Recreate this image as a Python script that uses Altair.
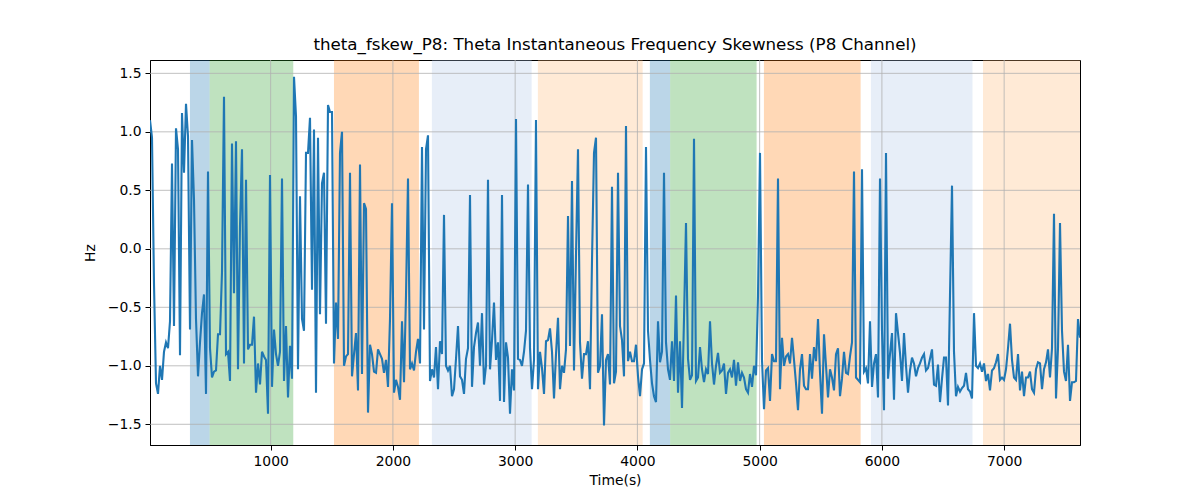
import altair as alt
import pandas as pd
import numpy as np

# ---- data ----
T0 = 13.1      # first sample time (s)
DT = 16.36     # sample step (s)

hz = [
    # 0 - 950 s
    1.10, 0.95, -0.30, -1.15, -1.24, -1.00, -1.12, -0.88, -0.80, -0.85,
    -0.62, 0.73, -0.66, 1.03, 0.85, -0.91, 1.16, 0.65, 1.24, 0.96,
    -0.69, 0.93, 0.42, -0.60, -1.09, -0.80, -0.55, -0.39, -1.24, 0.66,
    -0.85, -1.10, -1.05, -1.04, -0.73, -0.73, -0.20, 1.30, -0.90, -0.88,
    -1.13, 0.90, -0.38, 0.92, -1.03, 0.20, 0.85, -0.98, 0.59, -0.86,
    -0.82, -0.82, -0.58, -1.23, -0.98, -1.16, -0.88, -0.92,
    # 950 - 1900 s
    -0.95, -1.41, 0.63, -1.18, -0.69, -0.90, -1.00, -0.88, 0.60, -1.13,
    -0.66, -1.27, -0.83, -1.11, 1.47, 1.13, -1.03, 0.45, -0.60, -0.70,
    0.82, 0.82, 1.12, -0.35, 1.02, -1.23, 0.95, -0.56, 0.56, 0.65,
    -0.64, 1.23, 1.17, 1.17, -0.98, -0.46, -0.77, 0.82, 1.00, -1.00,
    -0.92, -0.90, 0.65, -1.09, -0.90, -0.72, -1.21, 0.72, -1.07, 0.39,
    0.34, -1.40, -0.82, -0.90, -1.05, -1.06, -0.86, -0.90,
    # 1900 - 2850 s
    -0.94, -1.06, -0.95, -1.18, -0.60, 0.39, -1.23, -1.12, -1.18, -1.29,
    -0.62, -1.14, -0.40, 0.60, -1.03, -0.98, -1.04, -0.88, -0.77, -0.98,
    0.87, -0.69, 0.85, 0.97, -1.13, -1.03, -1.10, -0.84, -1.20, -0.79,
    -0.90, 0.29, -1.00, -1.04, -1.00, -1.26, -1.20, -0.94, -0.66, -1.09,
    -1.12, -1.24, -0.94, -0.85, 0.46, -1.18, -0.84, -0.72, -0.63, -1.00,
    -0.55, -1.16, -1.00, 0.59, -1.03, -0.78, -0.46, -0.95,
    # 2850 - 3800 s
    -0.80, -1.30, 0.46, -1.31, -0.80, -0.93, -1.41, -1.03, -1.21, 1.11,
    -0.94, -0.95, -1.00, -0.88, -0.70, 0.55, -0.85, -1.20, -0.95, 1.10,
    -1.20, -0.88, -1.02, -1.24, -0.79, -0.78, -0.68, -0.88, -1.28, -0.90,
    -0.59, -1.20, -1.00, -1.06, -0.86, 0.28, -0.83, 0.58, -1.04, -0.05,
    0.85, -0.80, -1.11, -0.90, -0.90, -0.79, -1.20, -0.10, 0.82, 0.95,
    -1.06, -1.00, -0.56, -1.51, -0.95, -0.90, -1.16, 0.53,
    # 3800 - 4750 s
    -1.15, -1.05, 0.65, -0.66, -0.78, -1.09, 1.05, -0.96, -0.88, -0.96,
    -0.96, -0.82, -1.09, -1.26, -1.03, -0.98, 0.87, -0.70, -0.95, -1.15,
    -1.26, -1.31, -0.62, -0.97, -0.88, 0.65, -0.80, -1.03, -1.12, -0.79,
    -1.13, -0.40, -1.23, -0.79, -1.36, -0.60, 0.22, -0.94, -1.12, -1.08,
    0.94, -1.13, -1.10, -0.84, -1.03, -1.14, -1.03, -1.07, -0.62, -0.98,
    -1.16, -1.00, -0.89, -1.06, -1.04, -0.98, -1.24, -1.06,
    # 4750 - 5700 s
    -1.03, -1.10, -0.95, -1.17, -0.97, -1.13, -1.06, -1.10, -1.20, -1.23,
    -1.07, -1.18, -1.00, -1.08, -0.40, 0.82, -0.95, -1.37, -1.04, -1.02,
    -1.30, -0.90, -0.96, -0.96, 0.60, -1.20, -0.76, -1.00, -0.92, -0.90,
    -0.98, -0.76, -0.95, -1.15, -1.38, -1.03, -0.90, -1.17, -1.20, -1.20,
    -0.90, -1.11, -0.84, -0.96, -0.60, -1.06, -1.41, -0.73, -1.00, -1.27,
    -1.03, -1.10, -1.21, -0.90, -0.85, -1.26, -1.11, -0.88,
    # 5700 - 6650 s
    -1.06, -1.07, -0.92, -0.80, 0.66, -1.10, -1.12, -1.14, 0.68, -1.05,
    -1.02, -1.15, -0.62, -1.18, -0.98, -0.90, -1.27, 0.60, -0.70, -1.38,
    0.82, -1.11, -0.90, -0.72, -1.29, -0.55, -0.72, -0.89, -1.13, -0.72,
    -1.00, -1.23, -1.04, -0.93, -0.98, -1.09, -1.02, -0.98, -0.93, -0.90,
    -1.04, -1.02, -0.94, -0.86, -1.16, -1.17, -0.99, -1.31, -1.11, -0.93,
    -0.93, -1.34, -0.40, 0.54, -0.88, -1.26, -1.18, -1.22,
    # 6650 - 7620 s
    -1.19, -1.17, -1.06, -1.20, -1.22, -1.28, -0.55, -1.00, -1.02, -0.98,
    -1.05, -0.98, -1.13, -1.07, -1.21, -1.04, -1.02, -0.97, -0.90, -1.12,
    -1.10, -1.12, -1.03, -0.85, -0.64, -0.95, -1.10, -1.12, -0.90, -1.21,
    -1.05, -1.26, -1.10, -1.10, -1.05, -1.20, -1.23, -1.03, -0.97, -0.98,
    -1.20, -1.03, -0.97, -0.86, -1.10, -0.85, 0.30, -1.28, -0.85, 0.22,
    -0.70, -1.05, -1.13, -0.82, -1.30, -1.14, -1.14, -1.13, -0.60, -0.76,
]

span_start = [340, 501, 1518, 2319, 3186, 4102, 4268, 5035, 5910, 6827]
span_end = [501, 1185, 2213, 3135, 4043, 4268, 4975, 5826, 6741, 7620]
span_kind = ["k1", "k2", "k3", "k4", "k5", "k1", "k2", "k3", "k4", "k5"]
kind_names = ["k1", "k2", "k3", "k4", "k5"]
kind_colors = ["#1f77b4", "#2ca02c", "#ff7f0e", "#aec7e8", "#ffbb78"]

x_ticks = [1000, 2000, 3000, 4000, 5000, 6000, 7000]
y_ticks = [-1.5, -1.0, -0.5, 0.0, 0.5, 1.0, 1.5]

# ---- tables ----
t = T0 + DT * np.arange(len(hz))
line_df = pd.DataFrame({"t": t, "hz": hz})
span_df = pd.DataFrame({"start": span_start, "end": span_end, "kind": span_kind})
xg_df = pd.DataFrame({"t": x_ticks})
yg_df = pd.DataFrame({"hz": y_ticks})

FONT = "DejaVu Sans"
xs = alt.Scale(domain=[float(t[0]), float(t[-1])], nice=False, zero=False)
ys = alt.Scale(domain=[-1.677, 1.614], nice=False, zero=False)

x_axis = alt.Axis(title="Time(s)", values=x_ticks, format="d", grid=False,
                  tickSize=5, labelPadding=4, titlePadding=6)
y_axis = alt.Axis(title="Hz", values=y_ticks, format=".1f", grid=False,
                  tickSize=5, labelPadding=4, titlePadding=10)

spans = alt.Chart(span_df).mark_rect(opacity=0.3, clip=True).encode(
    x=alt.X("start:Q", scale=xs, axis=x_axis),
    x2="end:Q",
    color=alt.Color("kind:N", scale=alt.Scale(domain=kind_names, range=kind_colors), legend=None),
)

vgrid = alt.Chart(xg_df).mark_rule(color="#b0b0b0", strokeWidth=0.8).encode(
    x=alt.X("t:Q", scale=xs, axis=x_axis)
)
hgrid = alt.Chart(yg_df).mark_rule(color="#b0b0b0", strokeWidth=0.8).encode(
    y=alt.Y("hz:Q", scale=ys, axis=y_axis)
)

line = alt.Chart(line_df).mark_line(color="#1f77b4", strokeWidth=2.1, clip=True).encode(
    x=alt.X("t:Q", scale=xs, axis=x_axis),
    y=alt.Y("hz:Q", scale=ys, axis=y_axis),
)

chart = alt.layer(spans, vgrid, hgrid, line).properties(
    width=930,
    height=385,
    autosize=alt.AutoSizeParams(type="none"),
    padding={"left": 142, "top": 52, "right": 10, "bottom": 50},
    title=alt.TitleParams(
        "theta_fskew_P8: Theta Instantaneous Frequency Skewness (P8 Channel)",
        font=FONT, fontSize=16.7, fontWeight="normal", color="black",
        anchor="middle", offset=6,
    ),
).configure_view(
    stroke="black", strokeWidth=1
).configure_axis(
    domainColor="black", tickColor="black", labelColor="black", titleColor="black",
    labelFont=FONT, titleFont=FONT, labelFontSize=13.9, titleFontSize=13.9,
    titleFontWeight="normal", domainWidth=1, tickWidth=1,
)

chart.save("out.html", embed_options={"renderer": "svg", "actions": False})
